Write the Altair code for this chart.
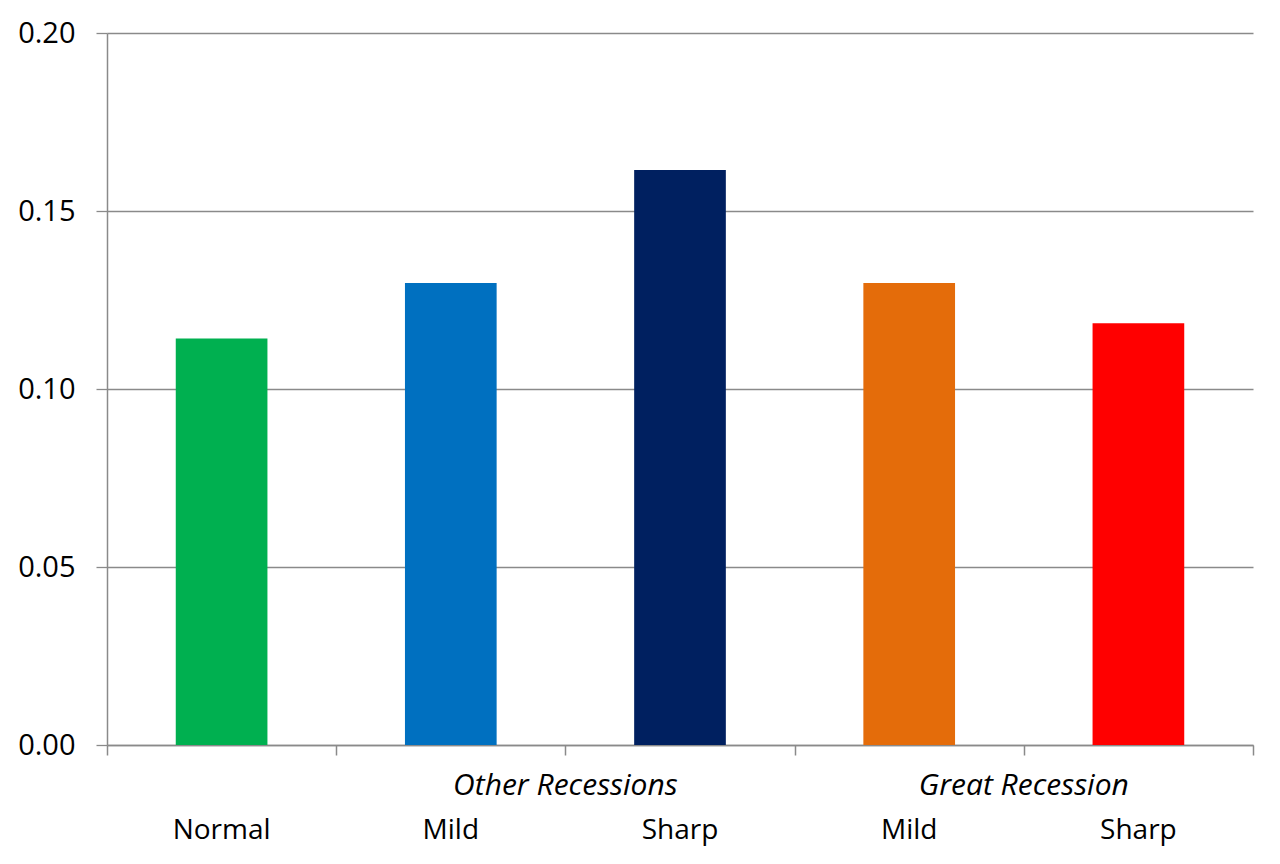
import altair as alt
import pandas as pd

categories = ["Normal", "Mild", "Sharp", "Mild", "Sharp"]
groups = ["", "Other Recessions", "Other Recessions", "Great Recession", "Great Recession"]
values = [0.1142, 0.1298, 0.1615, 0.1298, 0.1185]
colors = ["#00B050", "#0070C0", "#002060", "#E46C0A", "#FF0000"]
y_ticks = [0.0, 0.05, 0.10, 0.15, 0.20]
x_ticks = [0, 1, 2, 3, 4, 5]

df = pd.DataFrame({
    "idx": list(range(len(categories))),
    "category": categories,
    "group": groups,
    "value": values,
    "color": colors,
})

FONT = "Open Sans"
W, H = 1146, 712
GRAY = "#8a8a8a"

xscale = alt.Scale(domain=[0, len(categories)], nice=False, zero=False, padding=0)
yscale = alt.Scale(domain=[0, 0.2], nice=False, padding=0)

base = alt.Chart(df)

bars = base.transform_calculate(
    x0="datum.idx + 0.3", x1="datum.idx + 0.7"
).mark_bar(orient="vertical").encode(
    x=alt.X("x0:Q", scale=xscale,
            axis=alt.Axis(values=x_ticks, labels=False, title=None, grid=False,
                          domainColor=GRAY, domainWidth=1.5, tickColor=GRAY,
                          tickWidth=1.5, tickSize=10)),
    x2="x1:Q",
    y=alt.Y("value:Q", scale=yscale,
            axis=alt.Axis(values=y_ticks, format=".2f", title=None,
                          gridColor=GRAY, gridWidth=1.3, domainColor=GRAY,
                          domainWidth=1.5, tickColor=GRAY, tickWidth=1.3,
                          tickSize=11, labelPadding=21, labelFontSize=29,
                          labelFont=FONT, labelColor="#000000")),
    y2=alt.datum(0),
    color=alt.Color("color:N", scale=None),
)

cat_labels = base.transform_calculate(
    xc="datum.idx + 0.5"
).mark_text(font=FONT, fontSize=28, baseline="alphabetic", align="center",
            color="#000000").encode(
    x=alt.X("xc:Q", scale=xscale),
    y=alt.value(H + 94),
    text="category:N",
)

group_labels = base.transform_filter(
    "datum.group != ''"
).transform_aggregate(
    m="mean(idx)", groupby=["group"]
).transform_calculate(
    xg="datum.m + 0.5"
).mark_text(font=FONT, fontSize=30, fontStyle="italic", baseline="alphabetic",
            align="center", color="#000000").encode(
    x=alt.X("xg:Q", scale=xscale),
    y=alt.value(H + 50),
    text="group:N",
)

chart = alt.layer(bars, cat_labels, group_labels).properties(
    width=W, height=H,
    autosize=alt.AutoSizeParams(type="none"),
    padding={"left": 99, "top": 25, "right": 19, "bottom": 112},
).configure_view(stroke=None).configure_axis(labelFont=FONT)

chart.save("out.html", embed_options={"renderer": "svg", "actions": False})
